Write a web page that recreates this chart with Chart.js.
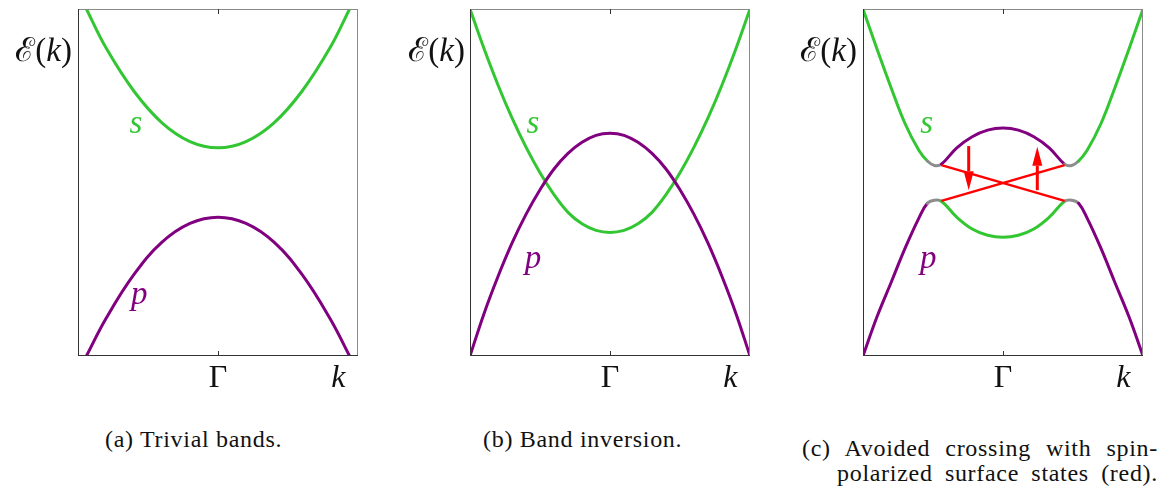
<!DOCTYPE html>
<html>
<head>
<meta charset="utf-8">
<script src="https://cdn.jsdelivr.net/npm/chart.js@4.4.1/dist/chart.umd.min.js"></script>
<style>
  body { margin: 0; background: #fff; }
  #page { position: relative; width: 1166px; height: 486px; overflow: hidden; font-family: 'Liberation Serif', serif; color: #111; }
  canvas { position: absolute; top: 0; }
  .ylab { position: absolute; top: 32px; font-size: 33px; line-height: 36px; text-align: right; white-space: nowrap; }
  .cap { position: absolute; font-size: 24px; line-height: 25px; letter-spacing: 0.7px; white-space: nowrap; }
  .just { text-align: justify; text-align-last: justify; white-space: normal; }
</style>
</head>
<body>
<div id="page">
  <canvas id="bandsA" width="390" height="400" style="left:0"></canvas>
  <canvas id="bandsB" width="390" height="400" style="left:390px"></canvas>
  <canvas id="bandsC" width="386" height="400" style="left:780px"></canvas>

  <div class="ylab" style="left:0; width:72px">ℰ(<i>k</i>)</div>
  <div class="ylab" style="left:390px; width:75px">ℰ(<i>k</i>)</div>
  <div class="ylab" style="left:780px; width:77px">ℰ(<i>k</i>)</div>

  <div class="cap" style="left:105px; top:427px">(a) Trivial bands.</div>
  <div class="cap" style="left:483px; top:427px">(b) Band inversion.</div>
  <div class="cap just" style="left:802px; top:436px; width:356px">(c) Avoided crossing with spin-</div>
  <div class="cap just" style="left:837px; top:461px; width:321px">polarized surface states (red).</div>
</div>
<script>
const FONT = "'Liberation Serif', serif";
const GREEN = '#33c633';
const PURPLE = '#800080';
const GRAY = '#8c8c8c';
const RED = '#ff0000';

// x axis: Γ at the centre, k near the right edge
const kTicks = [0, 0.86];
const kTickLabels = ['Γ', 'k'];

// (a) trivial bands
const trivialK = [-0.94, -0.8, -0.6, -0.4, -0.2, 0, 0.2, 0.4, 0.6, 0.8, 0.94];
const trivialS = [1.0, 0.888, 0.763, 0.672, 0.618, 0.6, 0.618, 0.672, 0.763, 0.888, 1.0];
const trivialP = [0.0, 0.108, 0.235, 0.328, 0.382, 0.4, 0.382, 0.328, 0.235, 0.108, 0.0];

// (b) inverted bands
const invertedK = [-1, -0.9, -0.8, -0.7, -0.6, -0.5, -0.4, -0.3, -0.2, -0.1, 0,
                   0.1, 0.2, 0.3, 0.4, 0.5, 0.6, 0.7, 0.8, 0.9, 1];
const invertedS = [1.0, 0.886, 0.781, 0.686, 0.602, 0.528, 0.465, 0.414, 0.381, 0.362, 0.356,
                   0.362, 0.381, 0.414, 0.465, 0.528, 0.602, 0.686, 0.781, 0.886, 1.0];
const invertedP = [0.0, 0.122, 0.229, 0.325, 0.408, 0.479, 0.539, 0.584, 0.616, 0.636, 0.642,
                   0.636, 0.616, 0.584, 0.539, 0.479, 0.408, 0.325, 0.229, 0.122, 0.0];

// (c) hybridised bands with a gap, surface states and spins
const avoidedK = [-1, -0.9, -0.8, -0.7, -0.6, -0.54, -0.49, -0.44, -0.33, -0.22, -0.11, 0,
                  0.11, 0.22, 0.33, 0.44, 0.49, 0.54, 0.6, 0.7, 0.8, 0.9, 1];
const avoidedUpper = [1.0, 0.885, 0.774, 0.67, 0.592, 0.562, 0.549, 0.553, 0.60, 0.632, 0.651, 0.657,
                      0.651, 0.632, 0.60, 0.553, 0.549, 0.562, 0.592, 0.67, 0.774, 0.885, 1.0];
const avoidedLower = [0.0, 0.113, 0.211, 0.31, 0.398, 0.44, 0.449, 0.446, 0.40, 0.366, 0.348, 0.342,
                      0.348, 0.366, 0.40, 0.446, 0.449, 0.44, 0.398, 0.31, 0.211, 0.113, 0.0];
const gapEdges = [0.44, 0.54];
const surfaceK = [-0.44, 0.44];
const surfaceA = [0.55, 0.447];
const surfaceB = [0.447, 0.55];
const spinK = [-0.245, 0.245];
const spinFrom = [0.605, 0.478];
const spinTo = [0.478, 0.603];

const pts = (ks, ys) => ks.map((k, i) => ({ x: k, y: ys[i] }));

function band(ks, ys, color, extra) {
  return Object.assign({
    data: pts(ks, ys), borderColor: color, borderWidth: 3, pointRadius: 0,
    tension: 0.4, borderCapStyle: 'round', order: 2
  }, extra || {});
}

// colour of a piece of the hybridised band depends on |k|
function avoidedColor(outer, inner) {
  return ctx => {
    const m = Math.abs((ctx.p0.parsed.x + ctx.p1.parsed.x) / 2);
    if (m > gapEdges[1]) return outer;
    if (m > gapEdges[0]) return GRAY;
    return inner;
  };
}

const framePlugin = {
  id: 'frame',
  afterDraw(chart) {
    const { ctx, chartArea: a, scales: { x } } = chart;
    ctx.save();
    ctx.lineWidth = 1;
    ctx.strokeStyle = '#8a8a8a';
    ctx.beginPath();
    ctx.moveTo(a.left, a.top + 0.5); ctx.lineTo(a.right, a.top + 0.5);
    ctx.moveTo(a.right - 0.5, a.top); ctx.lineTo(a.right - 0.5, a.bottom);
    ctx.stroke();
    ctx.strokeStyle = '#333';
    ctx.beginPath();
    ctx.moveTo(a.left + 0.5, a.top); ctx.lineTo(a.left + 0.5, a.bottom);
    ctx.moveTo(a.left, a.bottom - 0.5); ctx.lineTo(a.right, a.bottom - 0.5);
    // inward ticks at Γ
    const gx = Math.round(x.getPixelForValue(kTicks[0])) + 0.5;
    ctx.moveTo(gx, a.top); ctx.lineTo(gx, a.top + 5);
    ctx.moveTo(gx, a.bottom); ctx.lineTo(gx, a.bottom - 5);
    ctx.stroke();
    ctx.restore();
  }
};

const tagPlugin = {
  id: 'bandTags',
  afterDatasetsDraw(chart, args, opts) {
    const { ctx, scales: { x, y } } = chart;
    ctx.save();
    ctx.font = 'italic 33px ' + FONT;
    ctx.textAlign = 'center';
    ctx.textBaseline = 'alphabetic';
    (opts.items || []).forEach(t => {
      ctx.fillStyle = t.color;
      ctx.fillText(t.text, x.getPixelForValue(t.x), y.getPixelForValue(t.y));
    });
    ctx.restore();
  }
};

const arrowPlugin = {
  id: 'spinArrows',
  afterDatasetsDraw(chart) {
    const ctx = chart.ctx;
    chart.data.datasets.forEach((ds, i) => {
      if (!ds.spinArrow) return;
      const [a, b] = chart.getDatasetMeta(i).data;
      const len = Math.hypot(b.x - a.x, b.y - a.y);
      const ux = (b.x - a.x) / len, uy = (b.y - a.y) / len;
      const head = 19, half = 5;
      const bx = b.x - ux * head, by = b.y - uy * head;
      ctx.save();
      ctx.strokeStyle = ctx.fillStyle = ds.borderColor;
      ctx.lineWidth = 3;
      ctx.beginPath(); ctx.moveTo(a.x, a.y); ctx.lineTo(bx, by); ctx.stroke();
      ctx.beginPath();
      ctx.moveTo(b.x, b.y);
      ctx.lineTo(bx - uy * half, by + ux * half);
      ctx.lineTo(bx + uy * half, by - ux * half);
      ctx.closePath(); ctx.fill();
      ctx.restore();
    });
  }
};

function makeChart(id, padLeft, padRight, datasets, tags) {
  return new Chart(document.getElementById(id), {
    type: 'line',
    data: { datasets },
    options: {
      responsive: false, animation: false, events: [],
      layout: { padding: { left: padLeft, right: padRight, top: 9, bottom: 0 } },
      plugins: { legend: { display: false }, tooltip: { enabled: false }, bandTags: { items: tags } },
      scales: {
        x: {
          type: 'linear', min: -1, max: 1,
          grid: { display: false }, border: { display: false },
          afterBuildTicks: s => { s.ticks = kTicks.map(v => ({ value: v })); },
          afterFit: s => { s.height = 44; },
          ticks: {
            autoSkip: false, maxRotation: 0, padding: -5, color: '#111',
            font: c => ({ family: FONT, size: 32, style: c.index === 1 ? 'italic' : 'normal' }),
            callback: (v, i) => kTickLabels[i]
          }
        },
        y: { display: false, min: 0, max: 1 }
      }
    },
    plugins: [framePlugin, tagPlugin, arrowPlugin]
  });
}

makeChart('bandsA', 78, 32, [
  band(trivialK, trivialS, GREEN),
  band(trivialK, trivialP, PURPLE)
], [
  { text: 's', color: GREEN, x: -0.586, y: 0.643 },
  { text: 'p', color: PURPLE, x: -0.562, y: 0.15 }
]);

makeChart('bandsB', 80, 30, [
  band(invertedK, invertedP, PURPLE),
  band(invertedK, invertedS, GREEN)
], [
  { text: 's', color: GREEN, x: -0.55, y: 0.642 },
  { text: 'p', color: PURPLE, x: -0.55, y: 0.255 }
]);

makeChart('bandsC', 83, 23, [
  { data: pts(surfaceK, surfaceA), borderColor: RED, borderWidth: 2.5, pointRadius: 0, order: 1 },
  { data: pts(surfaceK, surfaceB), borderColor: RED, borderWidth: 2.5, pointRadius: 0, order: 1 },
  band(avoidedK, avoidedUpper, GREEN, { segment: { borderColor: avoidedColor(GREEN, PURPLE) } }),
  band(avoidedK, avoidedLower, PURPLE, { segment: { borderColor: avoidedColor(PURPLE, GREEN) } }),
  { data: [{ x: spinK[0], y: spinFrom[0] }, { x: spinK[0], y: spinTo[0] }], borderColor: RED, showLine: false, pointRadius: 0, spinArrow: true },
  { data: [{ x: spinK[1], y: spinFrom[1] }, { x: spinK[1], y: spinTo[1] }], borderColor: RED, showLine: false, pointRadius: 0, spinArrow: true }
], [
  { text: 's', color: GREEN, x: -0.545, y: 0.642 },
  { text: 'p', color: PURPLE, x: -0.534, y: 0.255 }
]);
</script>
</body>
</html>
